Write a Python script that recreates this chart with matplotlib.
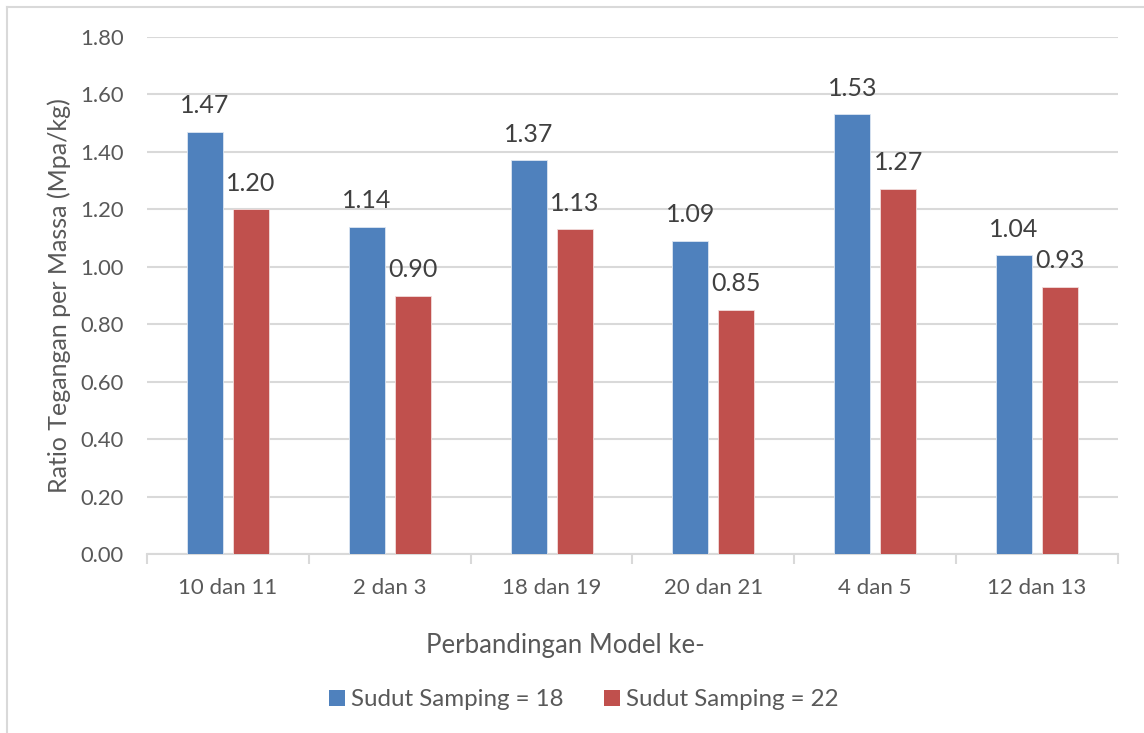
import matplotlib
matplotlib.use("Agg")
import matplotlib.pyplot as plt
from matplotlib.lines import Line2D
from matplotlib.patches import Patch
import numpy as np

plt.rcParams['font.family'] = ['Lato', 'DejaVu Sans']

categories = ["10 dan 11", "2 dan 3", "18 dan 19", "20 dan 21", "4 dan 5", "12 dan 13"]
sudut_18 = [1.47, 1.14, 1.37, 1.09, 1.53, 1.04]
sudut_22 = [1.20, 0.90, 1.13, 0.85, 1.27, 0.93]
series_names = ["Sudut Samping = 18", "Sudut Samping = 22"]
y_ticks = [0.00, 0.20, 0.40, 0.60, 0.80, 1.00, 1.20, 1.40, 1.60, 1.80]

BLUE = "#4f81bd"
RED = "#c0504d"
GRID = "#d9d9d9"
TICK_TXT = "#595959"
LABEL_TXT = "#404040"

W, H = 1144, 733
fig = plt.figure(figsize=(W / 100, H / 100), dpi=100)
fig.patch.set_facecolor("white")

# plot area in pixel coordinates
left_px, right_px, top_px, bottom_px = 147, 1118, 36.7, 554.4
ax = fig.add_axes([left_px / W, 1 - bottom_px / H,
                   (right_px - left_px) / W, (bottom_px - top_px) / H])

x = np.arange(len(categories))
bw = 0.222
off = 0.142
bars1 = ax.bar(x - off, sudut_18, width=bw, color=BLUE, edgecolor="#dce6f2",
               linewidth=0.6, zorder=3)
bars2 = ax.bar(x + off, sudut_22, width=bw, color=RED, edgecolor="#f2dcdb",
               linewidth=0.6, zorder=3)

for bars, vals in ((bars1, sudut_18), (bars2, sudut_22)):
    for b, v in zip(bars, vals):
        ax.annotate(f"{v:.2f}", (b.get_x() + b.get_width() / 2, v),
                    xytext=(0, 13.5), textcoords="offset points",
                    ha="center", va="baseline", fontsize=18,
                    color=LABEL_TXT, zorder=4)

ax.set_xlim(-0.5, len(categories) - 0.5)
ax.set_ylim(0, 1.8)
ax.set_yticks(y_ticks)
ax.set_yticklabels([f"{t:.2f}" for t in y_ticks])
ax.yaxis.grid(True, color=GRID, linewidth=1.5, zorder=0)
ax.set_axisbelow(True)

ax.set_xticks(x)
ax.set_xticklabels(categories)
ax.tick_params(axis="x", length=0, pad=17, labelsize=16, labelcolor=TICK_TXT)
ax.tick_params(axis="y", length=0, pad=17, labelsize=15.8, labelcolor=TICK_TXT)

# category separator ticks below the axis line
ax.set_xticks(np.arange(-0.5, len(categories)), minor=True)
ax.tick_params(axis="x", which="minor", length=7, width=1.5, color=GRID)

for s in ("top", "right", "left"):
    ax.spines[s].set_visible(False)
ax.spines["bottom"].set_color(GRID)
ax.spines["bottom"].set_linewidth(1.5)

ax.set_ylabel("Ratio Tegangan per Massa (Mpa/kg)", fontsize=18, color=TICK_TXT,
              labelpad=6)
fig.text(565 / W, 1 - 646 / H, "Perbandingan Model ke-",
         ha="center", va="center", fontsize=18.5, color=TICK_TXT)

handles = [Patch(facecolor=BLUE, edgecolor="none"),
           Patch(facecolor=RED, edgecolor="none")]
fig.legend(handles, series_names, loc="center", ncol=2,
           bbox_to_anchor=(584 / W, 1 - 700 / H), frameon=False,
           fontsize=17.4, labelcolor=TICK_TXT, handlelength=0.66,
           handleheight=0.66, handletextpad=0.25, columnspacing=1.7)

# chart area border (top and left edges)
fig.add_artist(Line2D([7.3 / W, 1], [1 - 7.3 / H, 1 - 7.3 / H],
                      transform=fig.transFigure, color=GRID, linewidth=1.5))
fig.add_artist(Line2D([7.3 / W, 7.3 / W], [0, 1 - 7.3 / H],
                      transform=fig.transFigure, color=GRID, linewidth=1.5))

fig.savefig("out.png", dpi=100, facecolor="white")
